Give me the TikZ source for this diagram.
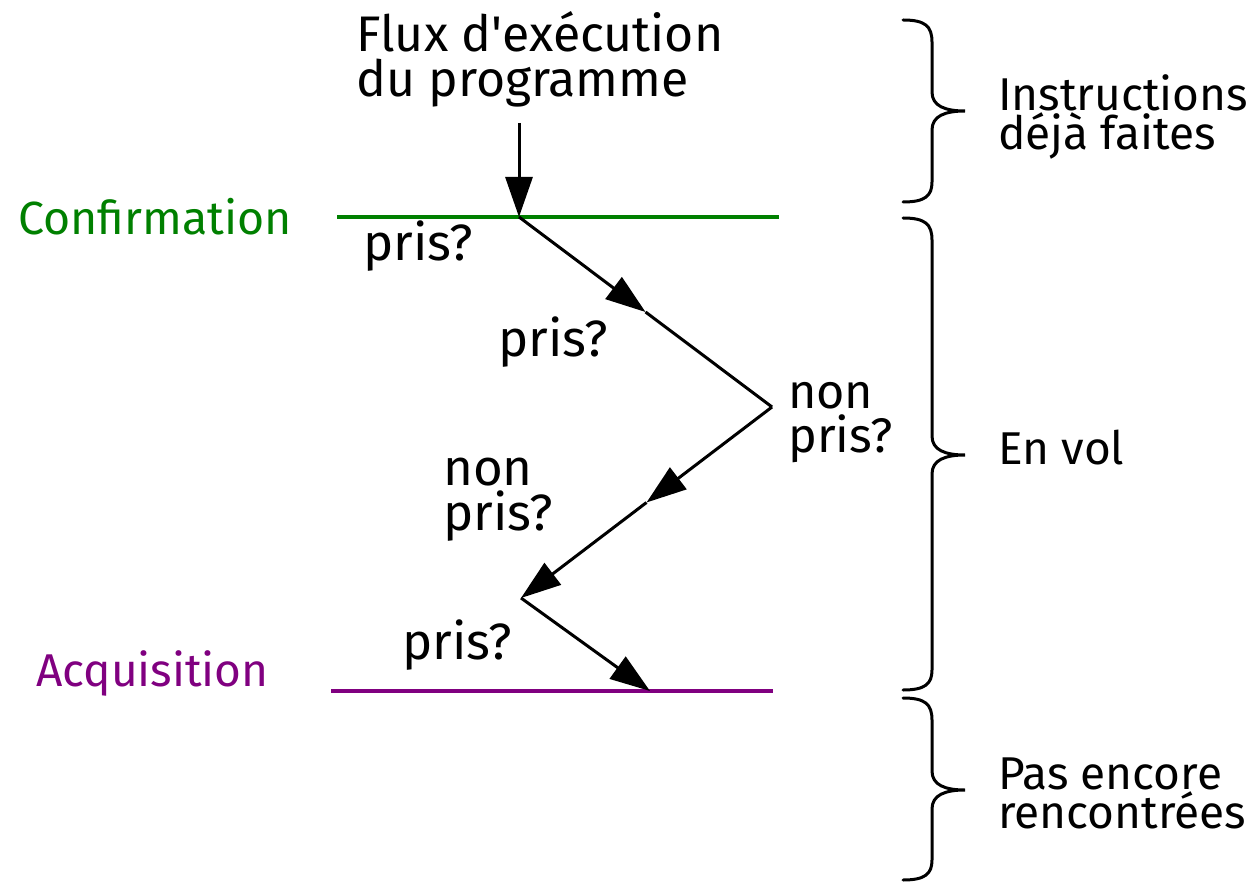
\documentclass[tikz,border=0pt]{standalone}
\usepackage{fontspec}
\setmainfont{Fira Sans}
\usetikzlibrary{arrows.meta}
\definecolor{cgreen}{RGB}{0,128,0}
\definecolor{cpurple}{RGB}{128,0,128}
\begin{document}
\begin{tikzpicture}[x=1pt,y=-1pt,
  lbl/.style={inner sep=0pt,anchor=base west,align=left,font=\fontsize{46}{45}\selectfont},
  big/.style={lbl,font=\fontsize{51}{45}\selectfont},
  rlbl/.style={lbl,font=\fontsize{46}{39}\selectfont},
  flow/.style={line width=3pt,black},
  arr/.style={flow,-{Triangle[length=40pt,width=27pt]}},
  brace/.style={line width=3pt,black,line cap=round}]
\useasboundingbox (0,0) rectangle (1255,882);
% key points
\coordinate (start) at (519,123);
\coordinate (c0) at (519,217);
\coordinate (m1) at (645.5,312);
\coordinate (c1) at (772,407);
\coordinate (m2) at (646.5,502.5);
\coordinate (c2) at (521,598);
\coordinate (c3) at (650,691);
\coordinate (gl) at (337,217);
\coordinate (gr) at (779,217);
\coordinate (pl) at (331,691);
\coordinate (pr) at (773,691);
% horizontal lines
\draw[cgreen,line width=3.2pt] (gl) -- (gr);
\draw[cpurple,line width=3.2pt] (pl) -- (pr);
% flow
\draw[arr] (start) -- (c0);
\draw[arr] (c0) -- (m1);
\draw[flow] (m1) -- (c1);
\draw[arr] (c1) -- (m2);
\draw[arr] (m2) -- (c2);
\draw[arr] (c2) -- (c3);
% labels (base anchor = baseline of last line)
\node[lbl,font=\fontsize{50}{45}\selectfont] (flux) at (356,97) {Flux d\textquotesingle exécution\\du programme};
\node[lbl,text=cgreen,font=\fontsize{46.5}{45}\selectfont] (conf) at (18,235) {Confirmation};
\node[lbl,text=cpurple] (acq) at (36,686) {Acquisition};
\node[big] (p1) at (363,261) {pris?};
\node[big] (p2) at (498,356) {pris?};
\node[lbl,font=\fontsize{48.5}{44}\selectfont] (np1) at (788,452) {non\\pris?};
\node[big] (np2) at (443,530) {non\\pris?};
\node[big] (p3) at (402,659) {pris?};
\node[rlbl] (r1) at (998,150) {Instructions\\déjà faites};
\node[rlbl] (r2) at (998,464) {En vol};
\node[rlbl] (r3) at (998,828) {Pas encore\\rencontrées};
% braces
\draw[brace] (903,20) .. controls (925,20) and (932,26) .. (932,42) -- (932,92)
  .. controls (932,106) and (945,111) .. (965,111)
  .. controls (945,111) and (932,116) .. (932,130) -- (932,182)
  .. controls (932,196) and (925,202) .. (903,202);
\draw[brace] (903,218) .. controls (925,218) and (932,224) .. (932,240) -- (932,436)
  .. controls (932,450) and (945,455) .. (965,455)
  .. controls (945,455) and (932,460) .. (932,474) -- (932,670)
  .. controls (932,684) and (925,690) .. (903,690);
\draw[brace] (903,698) .. controls (925,698) and (932,704) .. (932,720) -- (932,771)
  .. controls (932,785) and (945,790) .. (965,790)
  .. controls (945,790) and (932,795) .. (932,809) -- (932,860)
  .. controls (932,874) and (925,880) .. (903,880);
\end{tikzpicture}
\end{document}
